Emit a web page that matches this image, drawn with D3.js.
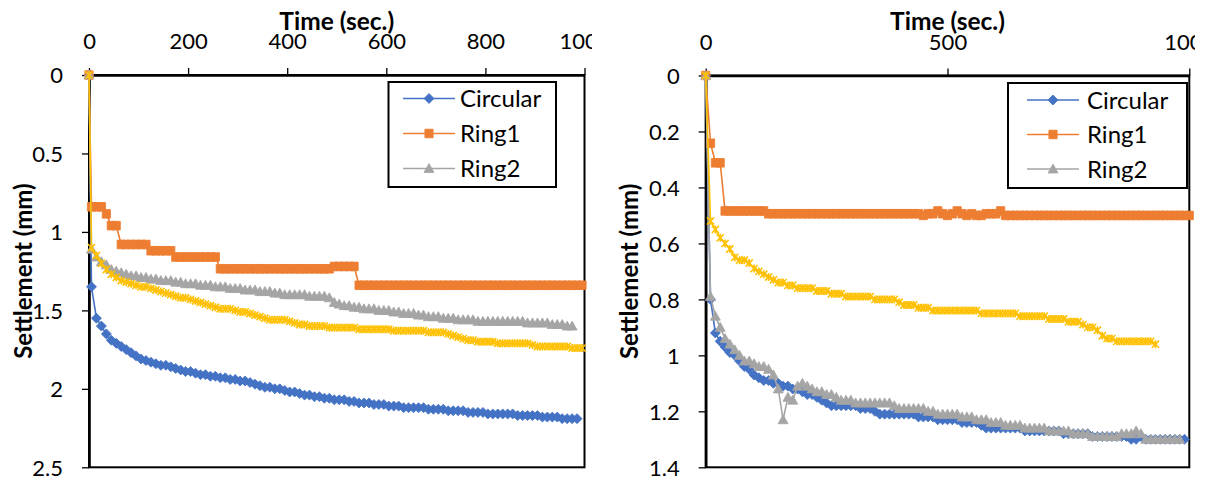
<!DOCTYPE html>
<html><head><meta charset="utf-8">
<script src="https://cdn.jsdelivr.net/npm/d3@7"></script>
<style>
body{margin:0;background:#fff}
svg{display:block}
text{font-family:Lato,"Open Sans",sans-serif;fill:#000}
</style>
</head><body>
<svg id="c" width="1205" height="479"></svg>
<script>
// ---------- shared ----------
const legendNames = ["Circular","Ring1","Ring2"];
const seriesColors = ["#4472C4","#ED7D31","#A5A5A5","#FFC000"];
const seriesMarkers = ["diamond","square","triangle","x"];
const xTitle = "Time (sec.)";
const yTitle = "Settlement (mm)";

// ---------- left chart ----------
const leftTime = [0,5,15,25,35,45,55,65,75,85,
  95,105,115,125,135,145,155,165,175,185,
  195,205,215,225,235,245,255,265,275,285,
  295,305,315,325,335,345,355,365,375,385,
  395,405,415,425,435,445,455,465,475,485,
  495,505,515,525,535,545,555,565,575,585,
  595,605,615,625,635,645,655,665,675,685,
  695,705,715,725,735,745,755,765,775,785,
  795,805,815,825,835,845,855,865,875,885,
  895,905,915,925,935,945,955,965,975,985,
  995];
const leftCircular = [0,1.35,1.55,1.60,1.65,1.69,1.71,1.73,1.75,1.77,
  1.79,1.81,1.82,1.83,1.84,1.85,1.85,1.86,1.87,1.88,
  1.89,1.89,1.90,1.91,1.91,1.92,1.92,1.93,1.93,1.94,
  1.94,1.95,1.95,1.96,1.97,1.98,1.99,1.99,2.00,2.00,
  2.01,2.02,2.02,2.03,2.04,2.04,2.05,2.05,2.06,2.06,
  2.07,2.07,2.07,2.08,2.08,2.09,2.09,2.09,2.10,2.10,
  2.10,2.11,2.11,2.11,2.12,2.12,2.12,2.12,2.12,2.13,
  2.13,2.13,2.13,2.14,2.14,2.14,2.14,2.15,2.15,2.15,
  2.15,2.16,2.16,2.16,2.16,2.16,2.16,2.17,2.17,2.17,
  2.17,2.17,2.18,2.18,2.18,2.18,2.19,2.19,2.19,2.19];
const leftRing1 = [0,0.84,0.84,0.84,0.885,0.96,0.96,1.08,1.08,1.08,
  1.08,1.08,1.08,1.12,1.12,1.12,1.12,1.12,1.16,1.16,
  1.16,1.16,1.16,1.16,1.16,1.16,1.16,1.235,1.235,1.235,
  1.235,1.235,1.235,1.235,1.235,1.235,1.235,1.235,1.235,1.235,
  1.235,1.235,1.235,1.235,1.235,1.235,1.235,1.235,1.235,1.235,
  1.22,1.22,1.22,1.22,1.22,1.34,1.34,1.34,1.34,1.34,
  1.34,1.34,1.34,1.34,1.34,1.34,1.34,1.34,1.34,1.34,
  1.34,1.34,1.34,1.34,1.34,1.34,1.34,1.34,1.34,1.34,
  1.34,1.34,1.34,1.34,1.34,1.34,1.34,1.34,1.34,1.34,
  1.34,1.34,1.34,1.34,1.34,1.34,1.34,1.34,1.34,1.34,
  1.34];
const leftRing2 = [0,1.11,1.16,1.19,1.21,1.24,1.25,1.26,1.27,1.28,
  1.28,1.29,1.29,1.30,1.30,1.31,1.31,1.31,1.32,1.32,
  1.33,1.33,1.33,1.34,1.34,1.34,1.35,1.35,1.35,1.36,
  1.36,1.36,1.37,1.37,1.37,1.38,1.38,1.38,1.39,1.39,
  1.40,1.40,1.40,1.40,1.40,1.41,1.41,1.41,1.41,1.42,
  1.45,1.46,1.47,1.47,1.48,1.48,1.49,1.49,1.49,1.50,
  1.50,1.50,1.51,1.51,1.52,1.52,1.52,1.53,1.53,1.54,
  1.54,1.54,1.55,1.55,1.55,1.56,1.56,1.56,1.56,1.57,
  1.57,1.57,1.57,1.57,1.57,1.57,1.57,1.57,1.57,1.58,
  1.58,1.58,1.58,1.58,1.59,1.59,1.59,1.60,1.60];
const leftSeries4 = [0,1.10,1.15,1.20,1.24,1.27,1.29,1.31,1.32,1.33,
  1.34,1.35,1.35,1.36,1.37,1.38,1.39,1.40,1.41,1.42,
  1.42,1.43,1.44,1.45,1.46,1.47,1.48,1.49,1.49,1.49,
  1.50,1.51,1.51,1.52,1.53,1.54,1.55,1.56,1.56,1.56,
  1.56,1.57,1.58,1.59,1.59,1.60,1.60,1.60,1.60,1.61,
  1.61,1.61,1.61,1.61,1.61,1.62,1.62,1.62,1.62,1.62,
  1.62,1.62,1.63,1.63,1.63,1.63,1.63,1.63,1.63,1.64,
  1.64,1.64,1.64,1.65,1.66,1.67,1.68,1.69,1.69,1.70,
  1.70,1.70,1.70,1.71,1.71,1.71,1.71,1.71,1.71,1.71,
  1.72,1.73,1.73,1.73,1.73,1.73,1.73,1.73,1.74,1.74,
  1.74];
const leftXTicks = [0,200,400,600,800,1000];
const leftXTickLabels = ["0","200","400","600","800","1000"];
const leftYTicks = [0,0.5,1,1.5,2,2.5];
const leftYTickLabels = ["0","0.5","1","1.5","2","2.5"];

// ---------- right chart ----------
const rightTime = [0,10,20,30,40,50,60,70,80,90,
  100,110,120,130,140,150,160,170,180,190,
  200,210,220,230,240,250,260,270,280,290,
  300,310,320,330,340,350,360,370,380,390,
  400,410,420,430,440,450,460,470,480,490,
  500,510,520,530,540,550,560,570,580,590,
  600,610,620,630,640,650,660,670,680,690,
  700,710,720,730,740,750,760,770,780,790,
  800,810,820,830,840,850,860,870,880,890,
  900,910,920,930,940,950,960,970,980,990,
  1000];
const rightCircular = [0,0.80,0.92,0.95,0.97,0.99,1.00,1.02,1.04,1.05,
  1.07,1.08,1.09,1.09,1.10,1.10,1.11,1.11,1.12,1.12,
  1.13,1.14,1.14,1.15,1.16,1.17,1.18,1.18,1.18,1.18,
  1.18,1.18,1.19,1.19,1.19,1.20,1.21,1.21,1.21,1.21,
  1.21,1.21,1.21,1.21,1.22,1.22,1.22,1.22,1.23,1.23,
  1.23,1.23,1.23,1.24,1.24,1.24,1.24,1.25,1.26,1.26,
  1.26,1.26,1.26,1.26,1.26,1.26,1.27,1.27,1.27,1.27,
  1.27,1.27,1.27,1.27,1.28,1.28,1.28,1.28,1.28,1.28,
  1.29,1.29,1.29,1.29,1.29,1.29,1.29,1.29,1.30,1.30,
  1.29,1.30,1.30,1.30,1.30,1.30,1.30,1.30,1.30,1.30];
const rightRing1 = [0,0.242,0.312,0.312,0.484,0.484,0.484,0.484,0.484,0.484,
  0.484,0.484,0.484,0.494,0.494,0.494,0.494,0.494,0.494,0.494,
  0.494,0.494,0.494,0.494,0.494,0.494,0.494,0.494,0.494,0.494,
  0.494,0.494,0.494,0.494,0.494,0.494,0.494,0.494,0.494,0.494,
  0.494,0.494,0.494,0.494,0.494,0.50,0.494,0.494,0.484,0.494,
  0.50,0.494,0.484,0.494,0.50,0.494,0.50,0.50,0.494,0.494,
  0.494,0.484,0.50,0.50,0.50,0.50,0.50,0.50,0.50,0.50,
  0.50,0.50,0.50,0.50,0.50,0.50,0.50,0.50,0.50,0.50,
  0.50,0.50,0.50,0.50,0.50,0.50,0.50,0.50,0.50,0.50,
  0.50,0.50,0.50,0.50,0.50,0.50,0.50,0.50,0.50,0.50,
  0.50];
const rightRing2 = [0,0.79,0.86,0.90,0.94,0.96,0.98,1.00,1.02,1.02,
  1.03,1.04,1.04,1.05,1.07,1.12,1.23,1.15,1.16,1.11,
  1.10,1.11,1.12,1.13,1.13,1.14,1.14,1.15,1.16,1.16,
  1.16,1.17,1.17,1.17,1.17,1.17,1.17,1.17,1.17,1.18,
  1.19,1.19,1.19,1.19,1.19,1.19,1.20,1.20,1.21,1.21,
  1.21,1.21,1.21,1.22,1.22,1.22,1.23,1.23,1.23,1.24,
  1.24,1.24,1.25,1.25,1.25,1.25,1.26,1.26,1.26,1.26,
  1.26,1.27,1.27,1.27,1.27,1.27,1.28,1.28,1.28,1.28,
  1.29,1.29,1.29,1.29,1.29,1.29,1.28,1.28,1.28,1.27,
  1.28,1.30,1.30,1.30,1.30,1.30,1.30,1.30,1.30];
const rightSeries4 = [0,0.52,0.55,0.58,0.60,0.62,0.65,0.66,0.66,0.67,
  0.69,0.70,0.71,0.72,0.73,0.74,0.74,0.75,0.75,0.76,
  0.76,0.76,0.76,0.77,0.77,0.77,0.78,0.78,0.78,0.79,
  0.79,0.79,0.79,0.79,0.79,0.80,0.80,0.80,0.80,0.80,
  0.81,0.82,0.82,0.82,0.83,0.83,0.83,0.84,0.84,0.84,
  0.84,0.84,0.84,0.84,0.84,0.84,0.84,0.85,0.85,0.85,
  0.85,0.85,0.85,0.85,0.85,0.86,0.86,0.86,0.86,0.86,
  0.86,0.87,0.87,0.87,0.87,0.88,0.88,0.88,0.89,0.90,
  0.90,0.91,0.93,0.94,0.94,0.95,0.95,0.95,0.95,0.95,
  0.95,0.95,0.95,0.96];
const rightXTicks = [0,500,1000];
const rightXTickLabels = ["0","500","1000"];
const rightYTicks = [0,0.2,0.4,0.6,0.8,1,1.2,1.4];
const rightYTickLabels = ["0","0.2","0.4","0.6","0.8","1","1.2","1.4"];

// ---------- drawing ----------
const svg = d3.select("#c");
const defs = svg.append("defs");

const markerPath = {
  diamond: "M0,-5L5,0L0,5L-5,0Z",
  square: "M-4.1,-4.3H4.1V4.3H-4.1Z",
  triangle: "M0,-5L5,4L-5,4Z",
  x: "M-3.6,-3.6L3.6,3.6M-3.6,3.6L3.6,-3.6M0,-4V4"
};

function drawMarker(sel, kind, color) {
  const p = sel.append("path").attr("d", markerPath[kind]);
  if (kind === "x") p.attr("fill","none").attr("stroke", color).attr("stroke-width", 1.6);
  else p.attr("fill", color).attr("stroke", color).attr("stroke-width", 0.8);
  return p;
}

function drawChart(cfg) {
  defs.append("clipPath").attr("id", cfg.id + "clip")
    .append("rect").attr("x", cfg.clip[0]).attr("y", 0)
    .attr("width", cfg.clip[1] - cfg.clip[0]).attr("height", 479);
  const g = svg.append("g").attr("clip-path", "url(#" + cfg.id + "clip)");

  const x = d3.scaleLinear().domain([0, 1000]).range(cfg.xRange);
  const y = d3.scaleLinear().domain(cfg.yDomain).range(cfg.yRange);

  // plot border
  g.append("rect")
    .attr("x", x(0)).attr("y", y(cfg.yDomain[0]))
    .attr("width", x(1000) - x(0)).attr("height", y(cfg.yDomain[1]) - y(cfg.yDomain[0]))
    .attr("fill", "none").attr("stroke", "#000").attr("stroke-width", 2);

  // axes
  const xa = g.append("g").attr("transform", "translate(0," + y(cfg.yDomain[0]) + ")")
    .call(d3.axisTop(x).tickValues(cfg.xTicks)
      .tickFormat((d, i) => cfg.xTickLabels[i]).tickSize(7).tickSizeOuter(0).tickPadding(19));
  const ya = g.append("g").attr("transform", "translate(" + x(0) + ",0)")
    .call(d3.axisLeft(y).tickValues(cfg.yTicks)
      .tickFormat((d, i) => cfg.yTickLabels[i]).tickSize(7).tickSizeOuter(0).tickPadding(19));
  [xa, ya].forEach(a => {
    a.select(".domain").attr("stroke", "#000").attr("stroke-width", 2.6);
    a.selectAll(".tick line").attr("stroke", "#000").attr("stroke-width", 1.3);
    a.selectAll(".tick text").attr("font-size", 22).attr("font-family", "Lato").attr("fill", "#000");
  });
  ya.selectAll(".tick text").attr("dy", "0.36em");

  // titles
  g.append("text").attr("x", (x(0) + x(1000)) / 2).attr("y", 30)
    .attr("text-anchor", "middle").attr("font-weight", "bold").attr("font-size", 24.5).text(xTitle);
  g.append("text").attr("transform", "translate(" + cfg.yTitleX + "," + ((y(cfg.yDomain[0]) + y(cfg.yDomain[1])) / 2) + ") rotate(-90)")
    .attr("text-anchor", "middle").attr("font-weight", "bold").attr("font-size", 24).text(yTitle);

  // series
  const line = d3.line().x(d => x(d[0])).y(d => y(d[1]));
  cfg.series.forEach((vals, si) => {
    const pts = vals.map((v, i) => [cfg.time[i], v]);
    const col = seriesColors[si];
    g.append("path").datum(pts).attr("d", line)
      .attr("fill", "none").attr("stroke", col).attr("stroke-width", 1.6);
    const mg = g.append("g");
    pts.forEach(p => {
      drawMarker(mg, seriesMarkers[si], col)
        .attr("transform", "translate(" + x(p[0]) + "," + y(p[1]) + ")");
    });
  });

  // legend
  const L = cfg.legend;
  g.append("rect").attr("x", L.x).attr("y", L.y).attr("width", L.w).attr("height", L.h)
    .attr("fill", "#fff").attr("stroke", "#000").attr("stroke-width", 2);
  legendNames.forEach((name, i) => {
    const cy = L.rows[i];
    const col = seriesColors[i];
    g.append("line").attr("x1", L.lx1).attr("x2", L.lx2).attr("y1", cy).attr("y2", cy)
      .attr("stroke", col).attr("stroke-width", 1.6);
    drawMarker(g, seriesMarkers[i], col).attr("transform", "translate(" + ((L.lx1 + L.lx2) / 2) + "," + cy + ")");
    g.append("text").attr("x", L.tx).attr("y", cy).attr("dy", "0.36em")
      .attr("font-size", 24).text(name);
  });
}

drawChart({
  id: "left", clip: [0, 592],
  xRange: [89, 584.5], yDomain: [0, 2.5], yRange: [75, 467.3],
  xTicks: leftXTicks, xTickLabels: leftXTickLabels,
  yTicks: leftYTicks, yTickLabels: leftYTickLabels,
  yTitleX: 32,
  time: leftTime,
  series: [leftCircular, leftRing1, leftRing2, leftSeries4],
  legend: {x: 388.5, y: 82, w: 167.5, h: 105, rows: [98.5, 133.5, 168.5], lx1: 403, lx2: 455, tx: 460}
});
drawChart({
  id: "right", clip: [592, 1195],
  xRange: [705.7, 1189.3], yDomain: [0, 1.4], yRange: [75.5, 467.3],
  xTicks: rightXTicks, xTickLabels: rightXTickLabels,
  yTicks: rightYTicks, yTickLabels: rightYTickLabels,
  yTitleX: 638,
  time: rightTime,
  series: [rightCircular, rightRing1, rightRing2, rightSeries4],
  legend: {x: 1008, y: 83, w: 179, h: 105, rows: [100, 134.5, 169], lx1: 1027, lx2: 1079, tx: 1087}
});
</script>
</body></html>
